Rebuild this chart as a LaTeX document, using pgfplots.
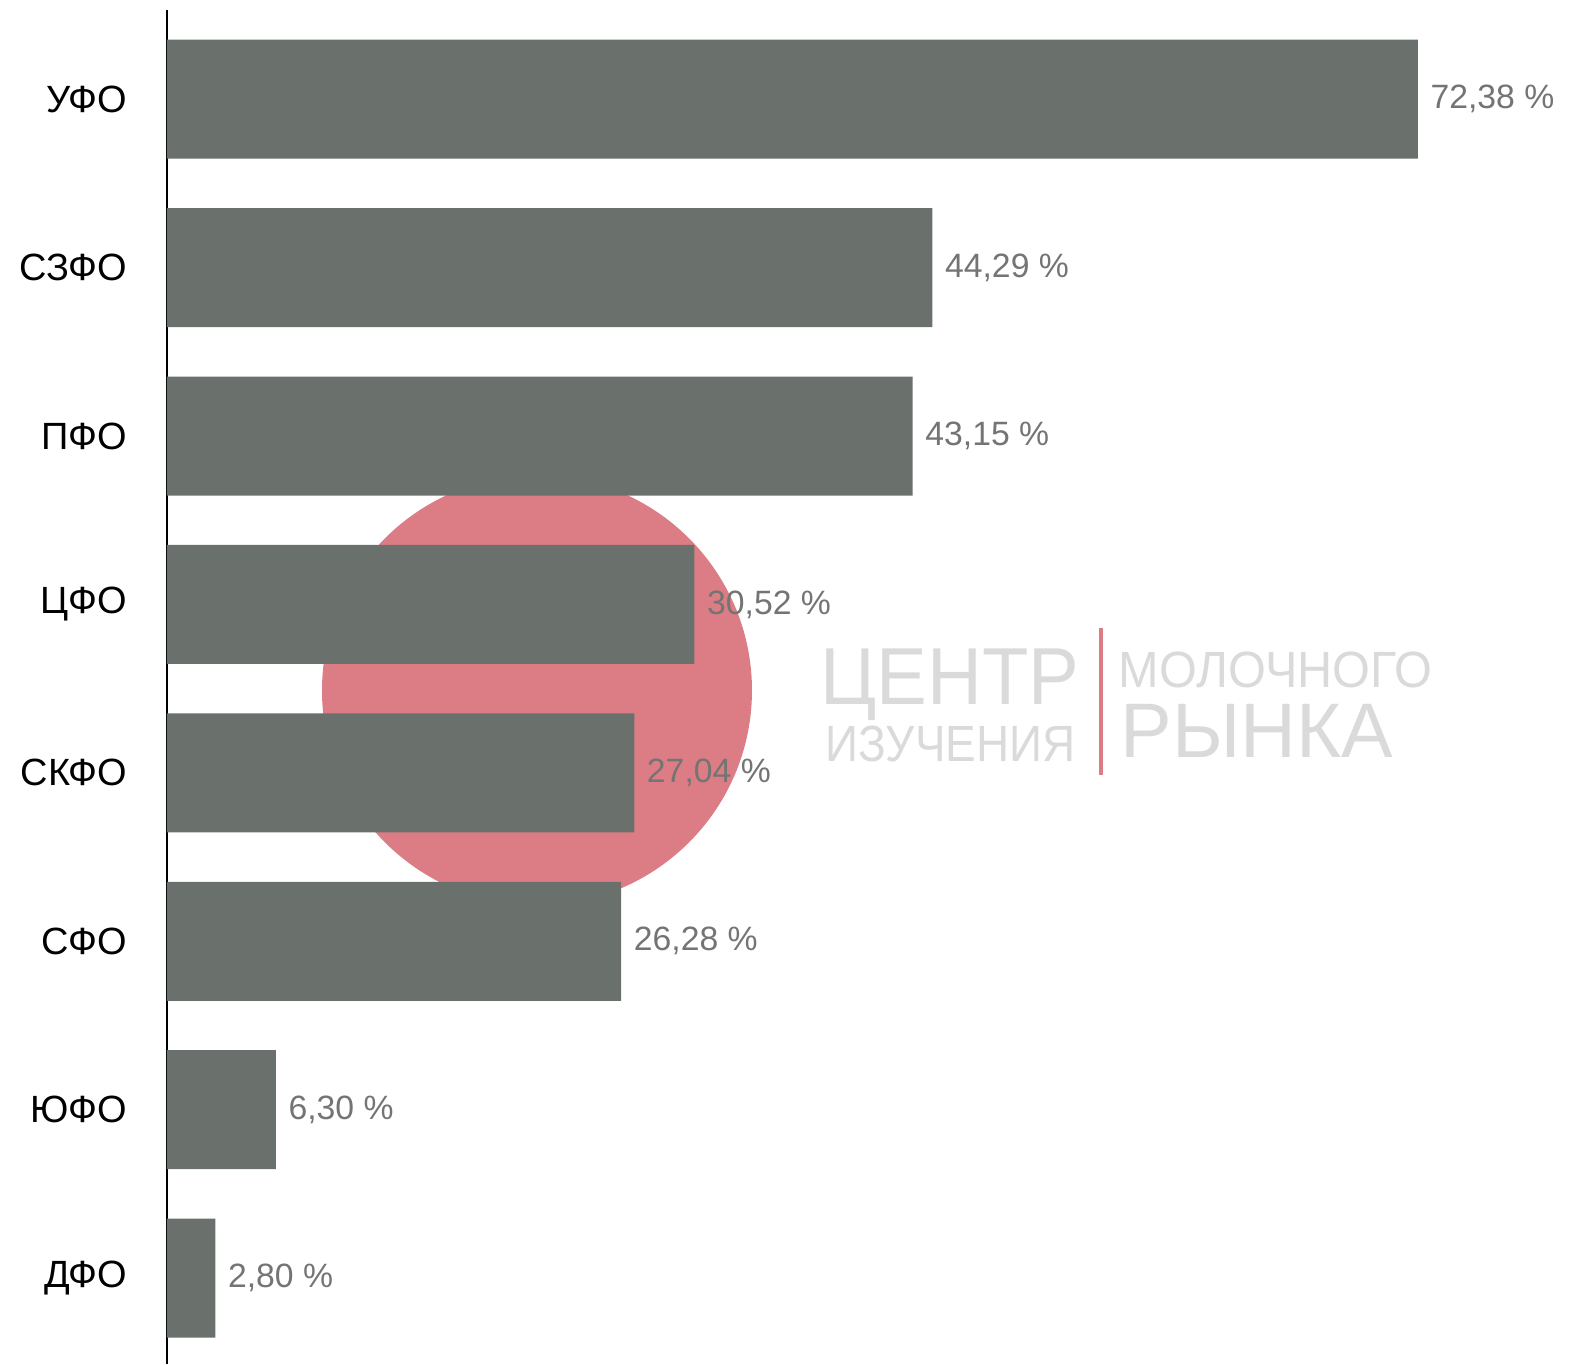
\documentclass[border=0pt]{standalone}
\usepackage{pgfplots}
\pgfplotsset{compat=1.18}
\usepackage{fontspec}
\setmainfont{Liberation Sans}
\definecolor{barc}{HTML}{6A706B}
\definecolor{valc}{HTML}{747474}
\definecolor{logopink}{HTML}{DC7D85}
\definecolor{wmgray}{HTML}{DADADA}
\begin{document}
\begin{tikzpicture}
\begin{axis}[
  set layers,
  scale only axis,
  width=140.2mm, height=135.4mm,
  xmin=0, xmax=81.13,
  ymin=-0.51, ymax=7.53,
  axis x line=none,
  axis y line*=left,
  y axis line style={line width=0.8pt, black},
  ytick={0,1,2,3,4,5,6,7},
  yticklabels={ДФО,ЮФО,СФО,СКФО,ЦФО,ПФО,СЗФО,УФО},
  ytick style={draw=none},
  yticklabel style={font=\fontsize{10.8}{12}\selectfont, inner sep=0pt, xshift=-2.4mm, text=black},
  xbar,
  bar width=11.9mm,
  /pgf/number format/assume math mode=true,
  nodes near coords={\pgfmathprintnumber[fixed,fixed zerofill,precision=2,use comma]{\pgfplotspointmeta}~\%},
  nodes near coords style={font=\fontsize{9.6}{11}\selectfont, text=valc, inner sep=0pt, anchor=west, xshift=1.2mm},
  clip=false,
]
\begin{pgfonlayer}{axis background}
\fill[logopink] (axis cs:21.41,3.49) circle[radius=21.5mm];
\end{pgfonlayer}
\addplot[fill=barc, draw=none] coordinates {
  (2.80,0) (6.30,1) (26.28,2) (27.04,3) (30.52,4) (43.15,5) (44.29,6) (72.38,7)
};
\end{axis}
% watermark text (pixel (px,py) -> ((px-167)*0.1mm, (1364-py)*0.1mm))
\node[anchor=base west, inner sep=0pt, text depth=0pt, text=wmgray, font=\fontsize{23}{24}\selectfont] at (65.3mm,65.9mm) {\scalebox{0.94}[1]{ЦЕНТР}};
\node[anchor=base west, inner sep=0pt, text height=3.6mm, text=wmgray, font=\fontsize{14.5}{15}\selectfont] at (65.8mm,60.3mm) {\scalebox{0.9}[1]{ИЗУЧЕНИЯ}};
\draw[logopink, line width=1pt] (93.4mm,73.6mm) -- (93.4mm,58.9mm);
\node[anchor=base west, inner sep=0pt, text depth=0pt, text=wmgray, font=\fontsize{14.5}{15}\selectfont] at (95.1mm,67.6mm) {\scalebox{0.955}[1]{МОЛОЧНОГО}};
\node[anchor=base west, inner sep=0pt, text height=5.8mm, text=wmgray, font=\fontsize{22}{23}\selectfont] at (95.3mm,60.6mm) {РЫНКА};
\pgfresetboundingbox
\path[use as bounding box] (-16.7mm,0) rectangle (140.2mm,136.4mm);
\end{tikzpicture}
\end{document}
